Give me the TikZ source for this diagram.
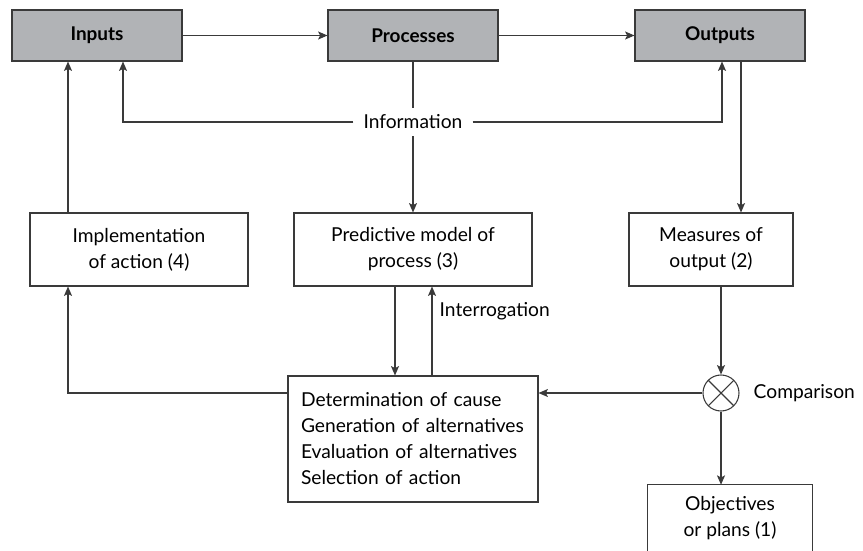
\documentclass[tikz,border=0pt]{standalone}
\usepackage{fontspec}
\setmainfont{Lato}
\usetikzlibrary{arrows.meta}
\definecolor{boxgray}{HTML}{B1B3B6}
\definecolor{linegray}{HTML}{3A3A3A}

\begin{document}
\begin{tikzpicture}[x=0.75pt,y=-0.75pt,font=\fontsize{14.4}{19.5}\selectfont,
    ln/.style={draw=linegray,line width=0.8pt},
    arr/.style={ln,-{Stealth[length=7pt,width=6pt,inset=1.5pt]}},
    topbox/.style={ln,fill=boxgray,minimum width=127.5pt,minimum height=38.25pt,inner sep=0pt,
      font=\fontsize{14.2}{16}\selectfont\bfseries},
    midbox/.style={ln,align=center,minimum height=54.75pt,inner sep=0pt}]
  \useasboundingbox (0,0) rectangle (863,550);
  \node[topbox] (inputs) at (97,35.5) {Inputs};
  \node[topbox] (proc) at (413,35.5) {Processes};
  \node[topbox] (outputs) at (720,35.5) {Outputs};
  \node[midbox,minimum width=163.5pt] (impl) at (139,249.5) {Implementation\\of action (4)};
  \node[midbox,minimum width=178.5pt] (pred) at (413,249.5) {Predictive model of\\process (3)};
  \node[midbox,minimum width=123pt] (meas) at (711,249.5) {Measures of\\output (2)};
  \node[ln,align=left,text width=168pt,inner xsep=9.75pt,inner ysep=0pt,minimum height=94.5pt] (det) at (413,439)
    {Determination of cause\\Generation of alternatives\\Evaluation of alternatives\\Selection of action};
  \node[align=center,minimum width=123pt,minimum height=49.5pt,inner sep=0pt] (obj) at (730,518) {Objectives\\or plans (1)};
  \draw[ln] (obj.south west) -- (obj.north west) -- (obj.north east) -- (obj.south east);
  \node[ln,circle,minimum size=27pt,inner sep=0pt,path picture={
      \draw[ln] (path picture bounding box.north west) -- (path picture bounding box.south east)
        (path picture bounding box.north east) -- (path picture bounding box.south west);}] (comp) at (721,393) {};
  \node[inner xsep=7.5pt,inner ysep=0pt,minimum height=21pt] (info) at (413,122) {Information};
  \node[anchor=west] (interr) at (435,311) {Interrogation};
  \node[anchor=west] (cmplbl) at (749,393) {Comparison};
  \coordinate (xl) at (68,0);
  \coordinate (xi) at (123,0);
  \coordinate (xo) at (722,0);
  \coordinate (xm) at (741,0);
  \coordinate (xd) at (395,0);
  \coordinate (xu) at (432,0);
  \draw[arr] (inputs) -- (proc);
  \draw[arr] (proc) -- (outputs);
  \draw[ln] (proc) -- (info);
  \draw[arr] (info) -- (pred);
  \draw[arr] (info.west) -| (xi |- inputs.south);
  \draw[arr] (info.east) -| (xo |- outputs.south);
  \draw[arr] (xm |- outputs.south) -- (xm |- meas.north);
  \draw[arr] (comp |- meas.south) -- (comp);
  \draw[arr] (comp) -- (comp |- obj.north);
  \draw[arr] (comp) -- (comp -| det.east);
  \draw[arr] (det.west |- comp) -| (xl |- impl.south);
  \draw[arr] (xl |- impl.north) -- (xl |- inputs.south);
  \draw[arr] (xd |- pred.south) -- (xd |- det.north);
  \draw[arr] (xu |- det.north) -- (xu |- pred.south);
\end{tikzpicture}
\end{document}
